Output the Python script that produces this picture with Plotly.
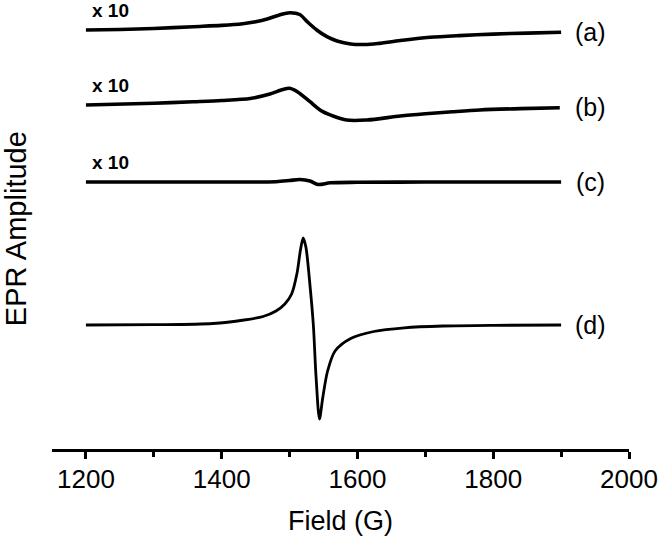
import plotly.graph_objects as go

# EPR spectra, amplitudes (arbitrary units, relative to each baseline)
field_a = [1200, 1250, 1300, 1358, 1400, 1431, 1450, 1467, 1485, 1500, 1515, 1526, 1540,
           1555, 1570, 1590, 1610, 1630, 1663, 1707, 1750, 1800, 1850, 1900]
amp_a = [0, 0.5, 1.5, 3.3, 4.6, 6.3, 8.3, 11, 15, 17.3, 15.5, 8.3, 0,
         -6.7, -11, -14, -14.5, -13.5, -10.5, -7.3, -5.6, -4.1, -3.1, -2.3]

field_b = [1200, 1300, 1358, 1400, 1442, 1471, 1490, 1500, 1512, 1530, 1549, 1584, 1614,
           1663, 1700, 1740, 1780, 1840, 1898]
amp_b = [0, 1.8, 3.3, 4.5, 6.5, 11, 15.5, 16.7, 13, 3.3, -6.7, -15, -15,
         -11, -8.8, -6.8, -5, -3.6, -2.7]

field_c = [1200, 1400, 1480, 1500, 1515, 1530, 1542, 1560, 1600, 1700, 1900]
amp_c = [0, 0, 0.3, 1.5, 2.5, 1, -2.5, -0.8, -0.3, 0, 0]

field_d = [1200, 1300, 1387, 1433, 1461, 1480, 1493, 1503, 1511, 1516, 1520, 1524, 1530,
           1535, 1539, 1544, 1549, 1556, 1567, 1590, 1624, 1669, 1726, 1800, 1900]
amp_d = [0, 0.3, 1.5, 5, 8.5, 14, 21, 31, 52, 75, 87, 78, 40,
         0, -52, -94, -72, -46, -26, -13.5, -6.5, -2.8, -1, -0.3, 0]

labels = ["(a)", "(b)", "(c)", "(d)"]
scale_labels = ["x 10", "x 10", "x 10", ""]
offsets = [419, 344, 267, 124]
label_shift = [-2, -2, 0, 0]

series = [(field_a, amp_a), (field_b, amp_b), (field_c, amp_c), (field_d, amp_d)]

fig = go.Figure()
annotations = []
for i, (fx, amp) in enumerate(series):
    y = [v + offsets[i] for v in amp]
    fig.add_trace(go.Scatter(
        x=fx, y=y, mode="lines",
        line=dict(color="black", width=2.8 if i == 3 else 3.6,
                  shape="spline", smoothing=0.8),
        showlegend=False, cliponaxis=False,
    ))
    annotations.append(dict(x=1943, y=offsets[i] + label_shift[i], xref="x", yref="y",
                            text=labels[i], showarrow=False,
                            font=dict(size=25, color="black")))
    if scale_labels[i]:
        annotations.append(dict(x=1236, y=offsets[i] + 20, xref="x", yref="y",
                                text="<b>" + scale_labels[i] + "</b>", showarrow=False,
                                font=dict(size=19, color="black")))

annotations.append(dict(x=-0.062, y=0.49, xref="paper", yref="paper",
                        xanchor="center", yanchor="middle",
                        text="EPR Amplitude", textangle=-90, showarrow=False,
                        font=dict(size=29, color="black")))
annotations.append(dict(x=0.5, y=-0.16, xref="paper", yref="paper",
                        xanchor="center", yanchor="middle",
                        text="Field (G)", showarrow=False,
                        font=dict(size=27, color="black")))

fig.update_layout(
    width=659, height=541,
    margin=dict(l=52, r=30, t=0, b=92),
    paper_bgcolor="white", plot_bgcolor="white",
    font=dict(family="Liberation Sans, Arial, sans-serif", color="black"),
    annotations=annotations,
)
fig.update_xaxes(
    range=[1150, 2000], showgrid=False, zeroline=False,
    showline=True, linecolor="black", linewidth=3,
    ticks="outside", ticklen=7, tickwidth=2.5, tickcolor="black",
    tickvals=[1200, 1400, 1600, 1800, 2000],
    tickfont=dict(size=26, color="black"), ticklabelstandoff=-2,
    minor=dict(tickvals=[1300, 1500, 1700, 1900], ticks="outside",
               ticklen=5, tickwidth=2.5, tickcolor="black"),
)
fig.update_yaxes(range=[0, 449], visible=False)

# drop the default 8px body margin so the figure fills the window
fig.write_html("out.html", config={"displayModeBar": False},
               post_script="document.body.style.margin='0';")
